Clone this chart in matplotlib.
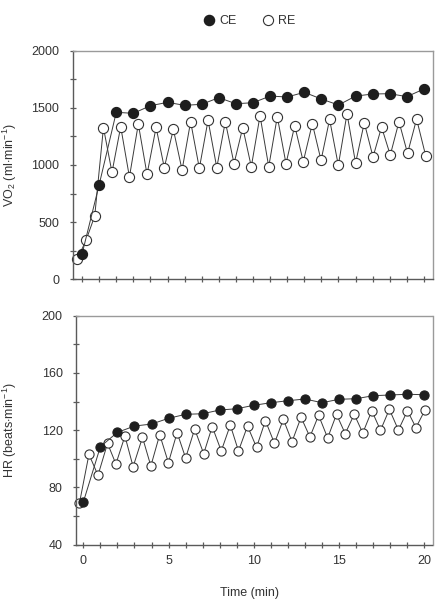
import matplotlib
matplotlib.use("Agg")
import matplotlib.pyplot as plt
from matplotlib.lines import Line2D
from matplotlib.ticker import MultipleLocator

plt.rcParams['font.family'] = ['Liberation Sans', 'DejaVu Sans']
plt.rcParams['mathtext.fontset'] = 'custom'
plt.rcParams['mathtext.rm'] = 'Liberation Sans'
plt.rcParams['mathtext.it'] = 'Liberation Sans:italic'

# ---- data ----
ce_time = list(range(21))
ce_vo2 = [222, 828, 1461, 1452, 1519, 1548, 1522, 1531, 1589, 1536, 1545,
          1603, 1595, 1636, 1577, 1525, 1603, 1621, 1624, 1598, 1665]
ce_hr = [69.8, 108.5, 118.5, 122.9, 124.3, 128.3, 131.1, 131.5, 134.1, 135.0, 137.4,
         139.2, 140.6, 141.8, 139.2, 141.6, 142.0, 144.1, 144.6, 145.1, 144.8]

re_time_vo2 = [-0.27, 0.23, 0.74, 1.25, 1.75, 2.26, 2.77, 3.29, 3.80, 4.33, 4.81,
               5.34, 5.85, 6.35, 6.86, 7.37, 7.88, 8.38, 8.89, 9.40, 9.90,
               10.41, 10.92, 11.42, 11.93, 12.44, 12.94, 13.47, 13.98, 14.48, 14.99,
               15.50, 16.00, 16.51, 17.02, 17.52, 18.03, 18.54, 19.04, 19.57, 20.10]
re_vo2 = [178, 341, 554, 1327, 936, 1335, 895, 1359, 918, 1329, 977,
          1312, 956, 1379, 971, 1391, 977, 1379, 1012, 1327, 985,
          1431, 985, 1423, 1012, 1344, 1029, 1362, 1041, 1399, 997,
          1449, 1017, 1370, 1070, 1332, 1087, 1379, 1102, 1402, 1082]

re_time_hr = [-0.23, 0.33, 0.86, 1.42, 1.91, 2.44, 2.92, 3.47, 3.96, 4.48,
              4.99, 5.50, 6.00, 6.53, 7.06, 7.56, 8.09, 8.62, 9.10, 9.63,
              10.16, 10.68, 11.21, 11.73, 12.24, 12.77, 13.29, 13.80, 14.33, 14.85,
              15.36, 15.89, 16.39, 16.92, 17.43, 17.95, 18.48, 19.01, 19.51, 20.04]
re_hr = [68.9, 103.1, 88.5, 110.8, 96.4, 115.9, 94.5, 115.0, 95.0, 116.9,
         97.3, 118.3, 100.6, 120.8, 103.6, 122.5, 105.5, 123.6, 105.5, 122.9,
         108.0, 126.7, 110.8, 127.6, 112.0, 129.0, 115.3, 130.4, 114.6, 131.1,
         117.6, 131.1, 118.0, 133.6, 119.9, 134.6, 120.1, 133.6, 121.8, 134.1]

xticks_major = [0, 5, 10, 15, 20]

# ---- figure ----
W, H = 438, 606
fig = plt.figure(figsize=(W / 100, H / 100), dpi=100)

ax1 = fig.add_axes([72.5 / W, 1 - 279.3 / H, 360 / W, 228.6 / H])
ax2 = fig.add_axes([76 / W, 1 - 544.7 / H, 356.5 / W, 229 / H])

line_c = '#3a3a3a'
fill_c = '#1e1e1e'
tick_c = '#333333'
FS = 9

def style(ax):
    for s in ['left', 'bottom']:
        ax.spines[s].set_color('#5a5a5a')
        ax.spines[s].set_linewidth(1.0)
    for s in ['top', 'right']:
        ax.spines[s].set_color('#9a9a9a')
        ax.spines[s].set_linewidth(1.0)
    ax.tick_params(which='both', direction='inout', color='#5a5a5a', width=0.9,
                   labelcolor=tick_c, labelsize=FS)
    ax.tick_params(axis='y', which='both', length=5, pad=7)
    ax.tick_params(axis='x', which='both', length=5, pad=5)
    ax.tick_params(top=False, right=False)
    ax.xaxis.set_major_locator(MultipleLocator(5))
    ax.xaxis.set_minor_locator(MultipleLocator(1))

# top panel
ax1.plot(re_time_vo2, re_vo2, '-o', color=line_c, lw=0.7, ms=7.3,
         mfc='white', mec='#333333', mew=0.8, zorder=2, clip_on=False)
ax1.plot(ce_time, ce_vo2, '-o', color=line_c, lw=0.7, ms=7.3,
         mfc=fill_c, mec=fill_c, mew=0.8, zorder=3, clip_on=False)
ax1.set_xlim(-0.56, 20.5)
ax1.set_ylim(0, 2000)
style(ax1)
ax1.yaxis.set_major_locator(MultipleLocator(500))
ax1.yaxis.set_minor_locator(MultipleLocator(250))
ax1.set_xticks(xticks_major)
ax1.set_xticklabels([])
ax1.set_ylabel(r'VO$_2$ (ml$\cdot$min$^{-1}$)', fontsize=FS, color=tick_c)
ax1.yaxis.set_label_coords((19.5 - 72.5) / 360, 0.5)

# bottom panel
ax2.plot(re_time_hr, re_hr, '-o', color=line_c, lw=0.7, ms=6.6,
         mfc='white', mec='#333333', mew=0.8, zorder=2, clip_on=False)
ax2.plot(ce_time, ce_hr, '-o', color=line_c, lw=0.7, ms=6.6,
         mfc=fill_c, mec=fill_c, mew=0.8, zorder=3, clip_on=False)
ax2.set_xlim(-0.43, 20.48)
ax2.set_ylim(40, 200)
style(ax2)
ax2.yaxis.set_major_locator(MultipleLocator(40))
ax2.yaxis.set_minor_locator(MultipleLocator(20))
ax2.set_xticks(xticks_major)
ax2.set_xticklabels([str(v) for v in xticks_major])
ax2.set_ylabel(r'HR (beats$\cdot$min$^{-1}$)', fontsize=FS, color=tick_c)
ax2.yaxis.set_label_coords((19.5 - 76) / 356.5, 0.5)

fig.text(249 / W, 1 - 593 / H, 'Time (min)', ha='center', va='center',
         fontsize=FS, color=tick_c)

handles = [
    Line2D([], [], ls='none', marker='o', ms=7.3, mfc=fill_c, mec=fill_c, label='CE'),
    Line2D([], [], ls='none', marker='o', ms=7.3, mfc='white', mec='#333333', mew=0.8, label='RE'),
]
fig.legend(handles=handles, loc='center', bbox_to_anchor=(249 / W, 1 - 21 / H),
           ncol=2, frameon=False, fontsize=FS, handletextpad=0.3, columnspacing=2.0,
           handlelength=1.0, labelcolor=tick_c)

fig.savefig('out.png', dpi=100)
